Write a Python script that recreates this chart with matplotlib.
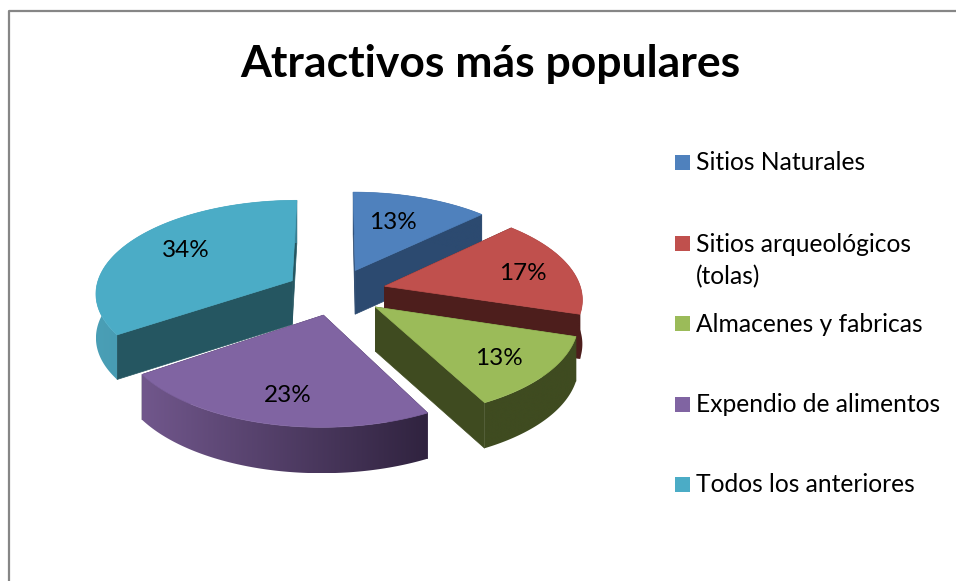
import numpy as np
import matplotlib
matplotlib.use("Agg")
import matplotlib.pyplot as plt
from matplotlib.patches import Polygon, Rectangle
from matplotlib.colors import to_rgb

title = "Atractivos más populares"
categories = ["Sitios Naturales", "Sitios arqueológicos\n(tolas)", "Almacenes y fabricas",
              "Expendio de alimentos", "Todos los anteriores"]
values = [12.8, 16.9, 12.5, 23.1, 34.4]
value_labels = ["13%", "17%", "13%", "23%", "34%"]

top_colors = ["#4f81bd", "#c0504d", "#9bbb59", "#8064a2", "#4bacc6"]
cut_colors = ["#2c4a70", "#4d1e1c", "#3f4b20", "#3a2b4d", "#255661"]
wall_from = ["#2c4a70", "#4d1e1c", "#3f4b20", "#71578c", "#4a9fb6"]
wall_to = ["#2c4a70", "#4d1e1c", "#3f4b20", "#30233f", "#3a8499"]
label_radius = [0.58, 0.72, 0.78, 0.74, 0.72]
label_nudge = [(-2, -4), (5, 2), (-7, 0), (6, 3), (11, -1)]
draw_order = [0, 1, 4, 2, 3]

CX, CY, R, RY, P, E, D = 336, 291.6, 197, 92.5, 0.12, 0.255, 44


def project(wx, wy, drop=0.0):
    s = 1 / (1 + P * wy)
    return CX + R * wx * s, CY - RY * wy * s + drop * (1 + (s - 1) * 0.25)


fig = plt.figure(figsize=(9.56, 5.81), dpi=100)
ax = fig.add_axes([0, 0, 1, 1])
ax.set_xlim(0, 956)
ax.set_ylim(581, 0)
ax.axis("off")

ax.plot([9.5, 9.5, 956], [581, 10.5, 10.5], color="#868686", lw=1.6, solid_capstyle="butt")

fracs = np.array(values) / sum(values)
edges = np.concatenate([[0], np.cumsum(fracs)]) * 2 * np.pi

z = 2
for i in draw_order:
    a0, a1 = edges[i], edges[i + 1]
    mid = (a0 + a1) / 2
    ax0, ay0 = E * np.sin(mid), E * np.cos(mid)
    th = np.linspace(a0, a1, 120)
    wx = ax0 + np.sin(th)
    wy = ay0 + np.cos(th)
    tx, ty = project(wx, wy)
    bx, by = project(wx, wy, D)
    px, py = project(ax0, ay0)
    qx, qy = project(ax0, ay0, D)

    # flat cut walls: end edge, then start edge
    for ex, ey, fx, fy in [(tx[-1], ty[-1], bx[-1], by[-1]), (tx[0], ty[0], bx[0], by[0])]:
        ax.add_patch(Polygon([(px, py), (ex, ey), (fx, fy), (qx, qy)], closed=True,
                             fc=cut_colors[i], ec=cut_colors[i], lw=0.5, zorder=z))
        z += 1

    # curved outer wall, shaded left to right
    c0, c1 = np.array(to_rgb(wall_from[i])), np.array(to_rgb(wall_to[i]))
    ramp = np.linspace(0, 1, 256)[None, :, None]
    grad = c0[None, None, :] + (c1 - c0)[None, None, :] * ramp
    im = ax.imshow(grad, extent=(tx.min(), tx.max(), by.max(), ty.min()), aspect="auto",
                   zorder=z, interpolation="bilinear")
    wall = Polygon(np.column_stack([np.r_[tx, bx[::-1]], np.r_[ty, by[::-1]]]), closed=True,
                   transform=ax.transData)
    im.set_clip_path(wall)
    z += 1

    ax.add_patch(Polygon(np.column_stack([np.r_[px, tx], np.r_[py, ty]]), closed=True,
                         fc=top_colors[i], ec=top_colors[i], lw=0.5, zorder=z))
    z += 1

    r = label_radius[i]
    lx, ly = project(ax0 + r * np.sin(mid), ay0 + r * np.cos(mid))
    ax.text(lx + label_nudge[i][0], ly + label_nudge[i][1], value_labels[i], ha="center",
            va="center", fontsize=17.5, family="Lato", color="black", zorder=100)

ax.set_xlim(0, 956)
ax.set_ylim(581, 0)

ax.text(490, 64, title, ha="center", va="center", fontsize=32, fontweight="bold",
        family="Lato", color="black")

legend_y = [162, 243, 323, 404, 484]
for y, name, col in zip(legend_y, categories, top_colors):
    ax.add_patch(Rectangle((675, y - 7.5), 15, 15, fc=col, ec="none"))
    ax.text(696, y - 10.5, name, ha="left", va="top", fontsize=17.7, family="Lato",
            color="black", linespacing=1.5)

fig.savefig("out.png", dpi=100, facecolor="white")
